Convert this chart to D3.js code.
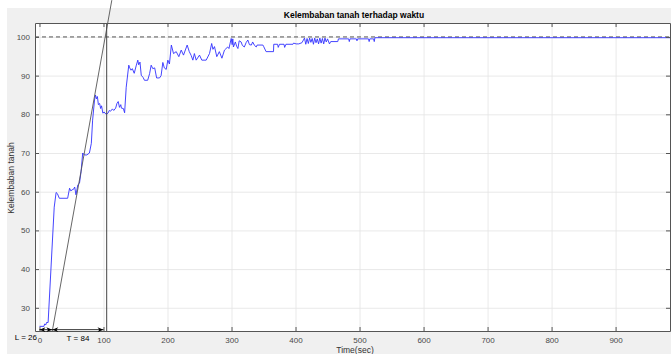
<!DOCTYPE html>
<html>
<head>
<meta charset="utf-8">
<script src="https://cdn.jsdelivr.net/npm/d3@7"></script>
<style>
  body { margin: 0; background: #fff; }
  svg { display: block; font-family: "Liberation Sans", Arial, sans-serif; }
</style>
</head>
<body>
<div id="chart"></div>
<script>
// soil moisture readings
const timeSec = [
  0, 7, 8, 10, 11, 13.5, 23, 26, 28, 31, 44, 47, 49, 51, 53, 55, 57, 60, 62.5, 65,
  67.5, 70, 74, 78, 81, 83, 86, 87.5, 89, 90.5, 92, 94, 95.5, 97, 99, 101, 104, 107,
  109, 111, 114, 116, 119, 121, 123, 125, 127, 128, 131, 133, 135.5, 139.5, 141, 143,
  145, 148, 151, 153.6, 155, 157, 159, 162, 164, 169, 172, 174.5, 177, 180, 183, 187.5,
  190, 192.7, 195, 198, 200.5, 203, 206, 209.4, 213.6, 217.7, 221.4, 225, 230.7, 234,
  237, 239.6, 242, 244.8, 250, 253.6, 260.4, 265.6, 269, 271, 273.4, 277, 281, 285,
  289, 294, 296, 299.5, 301, 302, 303, 306, 308, 310, 312, 315, 317, 320, 323, 325.5,
  328, 331, 333, 336, 338.6, 340, 349, 350, 354, 365.6, 366, 372, 373, 375, 382, 383,
  385, 396, 397, 401, 405, 410, 414, 416, 418, 420, 422, 424, 426, 428, 430, 432, 434,
  436, 438, 440, 442, 444, 446, 448, 450, 453, 455, 466, 467, 483, 484, 485, 495, 496,
  497, 514, 515, 516, 522, 523, 524, 985
];
const moisture = [
  25.2, 25.2, 25.8, 25.6, 26.2, 26.2, 56, 59.8, 59.5, 58.3, 58.3, 60.9, 60.2, 60.5, 60.6, 61.2, 59.2, 61.8, 62.2, 65.2,
  70, 69.5, 69.5, 70, 72.5, 78.5, 83.7, 85, 84, 84.6, 82.5, 82.8, 81.5, 82.2, 80.3, 80.6, 80, 80.3,
  81, 80.8, 81.4, 81, 81.6, 82.8, 83.3, 81.8, 82.5, 81.6, 81.5, 80.4, 87, 92.7, 92, 91.4,
  91.8, 90.6, 92.5, 94, 92.8, 93.5, 90.1, 89.5, 88.8, 88.8, 90.5, 92.7, 91.8, 92, 89.4, 89.4,
  90, 93.4, 92, 91.6, 94, 93, 97.9, 95.7, 96.2, 94.9, 96.6, 95.3, 97.9, 96.2,
  95.2, 94, 95.7, 94, 95.3, 94, 94, 95.7, 98.3, 96.8, 97.5, 94.9, 96.2, 94.5,
  96.6, 97.4, 97, 99.6, 98, 99.5, 97.4, 98.7, 97.6, 97, 99, 98.7, 97.8, 97.4, 98.6, 99.2,
  98, 97.9, 98.7, 97.8, 97.4, 97.9, 97.9, 97.6, 96.2, 96.2, 98.1, 98.1, 97.3, 98.1, 98.1, 97.3,
  98.1, 98.1, 98.4, 98.2, 98.2, 98.5, 99.7, 98.1, 99.6, 98.3, 99.7, 98.6, 99.6, 98.1, 99.7, 98.5, 99.5,
  98.2, 99.7, 98.4, 99.6, 98.2, 99.7, 98.7, 99.5, 98.2, 98.8, 98.8, 99.5, 99.5, 98.8, 99.5, 99.5, 99,
  99.5, 99.5, 98.8, 99.5, 99.5, 98.8, 99.8, 99.8
];
const xTicks = [0, 100, 200, 300, 400, 500, 600, 700, 800, 900];
const yTicks = [30, 40, 50, 60, 70, 80, 90, 100];
const setpoint = 100;
const deadTime = 26;     // L
const timeConst = 84;    // T
const tangent = [[20, 24], [113, 109.5]];
const crossTime = 105;

const W = 671, H = 354;
const box = {left: 35, right: 670, top: 23, bottom: 331};

const svg = d3.select("#chart").append("svg")
    .attr("width", W)
    .attr("height", H);

// figure background
svg.append("rect")
    .attr("x", 7).attr("y", 8)
    .attr("width", W - 7).attr("height", H - 8)
    .attr("fill", "#f0f0f0");

svg.append("rect")
    .attr("x", box.left).attr("y", box.top)
    .attr("width", box.right - box.left).attr("height", box.bottom - box.top)
    .attr("fill", "#fff");

const x = d3.scaleLinear().domain([-7, 985]).range([box.left, box.right]);
const y = d3.scaleLinear().domain([24, 103.6]).range([box.bottom, box.top]);

// grid
svg.append("g")
    .attr("transform", "translate(0," + box.bottom + ")")
    .call(d3.axisBottom(x).tickValues(xTicks).tickSize(-(box.bottom - box.top)).tickFormat(""))
    .call(g => g.select(".domain").remove())
    .call(g => g.selectAll("line").attr("stroke", "#e3e3e3").attr("stroke-width", 0.8));
svg.append("g")
    .attr("transform", "translate(" + box.left + ",0)")
    .call(d3.axisLeft(y).tickValues(yTicks).tickSize(-(box.right - box.left)).tickFormat(""))
    .call(g => g.select(".domain").remove())
    .call(g => g.selectAll("line").attr("stroke", "#e3e3e3").attr("stroke-width", 0.8));

svg.append("clipPath").attr("id", "clip")
    .append("rect")
    .attr("x", box.left).attr("y", box.top)
    .attr("width", box.right - box.left).attr("height", box.bottom - box.top);

// setpoint line
svg.append("line")
    .attr("x1", box.left).attr("x2", box.right)
    .attr("y1", y(setpoint)).attr("y2", y(setpoint))
    .attr("stroke", "#444")
    .attr("stroke-width", 0.9)
    .attr("stroke-dasharray", "4,3");

// measured response
const pts = timeSec.map((t, i) => [t, moisture[i]]);
svg.append("path")
    .datum(pts)
    .attr("clip-path", "url(#clip)")
    .attr("fill", "none")
    .attr("stroke", "#3030ff")
    .attr("stroke-width", 0.9)
    .attr("d", d3.line().x(d => x(d[0])).y(d => y(d[1])));

// tangent line and crossing time
svg.append("line")
    .attr("x1", x(tangent[0][0])).attr("y1", y(tangent[0][1]))
    .attr("x2", x(tangent[1][0])).attr("y2", y(tangent[1][1]))
    .attr("stroke", "#555")
    .attr("stroke-width", 0.9);
svg.append("line")
    .attr("x1", x(crossTime)).attr("x2", x(crossTime))
    .attr("y1", box.top).attr("y2", box.bottom)
    .attr("stroke", "#444")
    .attr("stroke-width", 1);

// axes
const axisStyle = g => {
    g.select(".domain").attr("stroke", "#555").attr("stroke-width", 1);
    g.selectAll(".tick line").attr("stroke", "#555");
    g.selectAll("text").attr("fill", "#4a4a4a").attr("font-size", 8)
        .attr("font-family", "'Liberation Sans', Arial, sans-serif");
};
svg.append("g")
    .attr("transform", "translate(0," + box.bottom + ")")
    .call(d3.axisBottom(x).tickValues(xTicks).tickSize(-4).tickSizeOuter(0).tickPadding(6))
    .call(axisStyle);
svg.append("g")
    .attr("transform", "translate(0," + box.top + ")")
    .call(d3.axisTop(x).tickValues(xTicks).tickSize(-4).tickSizeOuter(0).tickFormat(""))
    .call(axisStyle);
svg.append("g")
    .attr("transform", "translate(" + box.left + ",0)")
    .call(d3.axisLeft(y).tickValues(yTicks).tickSize(-4).tickSizeOuter(0).tickPadding(5))
    .call(axisStyle);
svg.append("g")
    .attr("transform", "translate(" + box.right + ",0)")
    .call(d3.axisRight(y).tickValues(yTicks).tickSize(-4).tickSizeOuter(0).tickFormat(""))
    .call(axisStyle);

// L and T arrows
const defs = svg.append("defs");
["end", "start"].forEach(k => {
    defs.append("marker")
        .attr("id", "head-" + k)
        .attr("viewBox", "-8 -4 9 8")
        .attr("refX", 0).attr("refY", 0)
        .attr("markerWidth", 8).attr("markerHeight", 6)
        .attr("markerUnits", "userSpaceOnUse")
        .attr("orient", k === "end" ? "auto" : "auto-start-reverse")
        .append("path")
        .attr("d", "M0,0 L-8,-3.2 L-5.5,0 L-8,3.2 Z")
        .attr("fill", "#000");
});
const arrowY = y(24.35);
[[0, 20], [20, 100]].forEach(([a, b]) => {
    svg.append("line")
        .attr("x1", x(a)).attr("x2", x(b))
        .attr("y1", arrowY).attr("y2", arrowY)
        .attr("stroke", "#000")
        .attr("stroke-width", 0.8)
        .attr("marker-start", "url(#head-start)")
        .attr("marker-end", "url(#head-end)");
});
svg.append("text")
    .attr("x", 37).attr("y", 339.5)
    .attr("text-anchor", "end")
    .attr("font-size", 8)
    .attr("fill", "#000")
    .text("L = " + deadTime);
svg.append("text")
    .attr("x", 78).attr("y", 341)
    .attr("text-anchor", "middle")
    .attr("font-size", 8)
    .attr("fill", "#000")
    .text("T = " + timeConst);

// titles
svg.append("text")
    .attr("x", 354).attr("y", 17.5)
    .attr("text-anchor", "middle")
    .attr("font-size", 8.5)
    .attr("font-weight", "bold")
    .attr("fill", "#000")
    .text("Kelembaban tanah terhadap waktu");
svg.append("text")
    .attr("x", 355).attr("y", 352.5)
    .attr("text-anchor", "middle")
    .attr("font-size", 8.5)
    .attr("fill", "#333")
    .text("Time(sec)");
svg.append("text")
    .attr("transform", "translate(14,178) rotate(-90)")
    .attr("text-anchor", "middle")
    .attr("font-size", 8.5)
    .attr("fill", "#333")
    .text("Kelembaban tanah");
</script>
</body>
</html>
